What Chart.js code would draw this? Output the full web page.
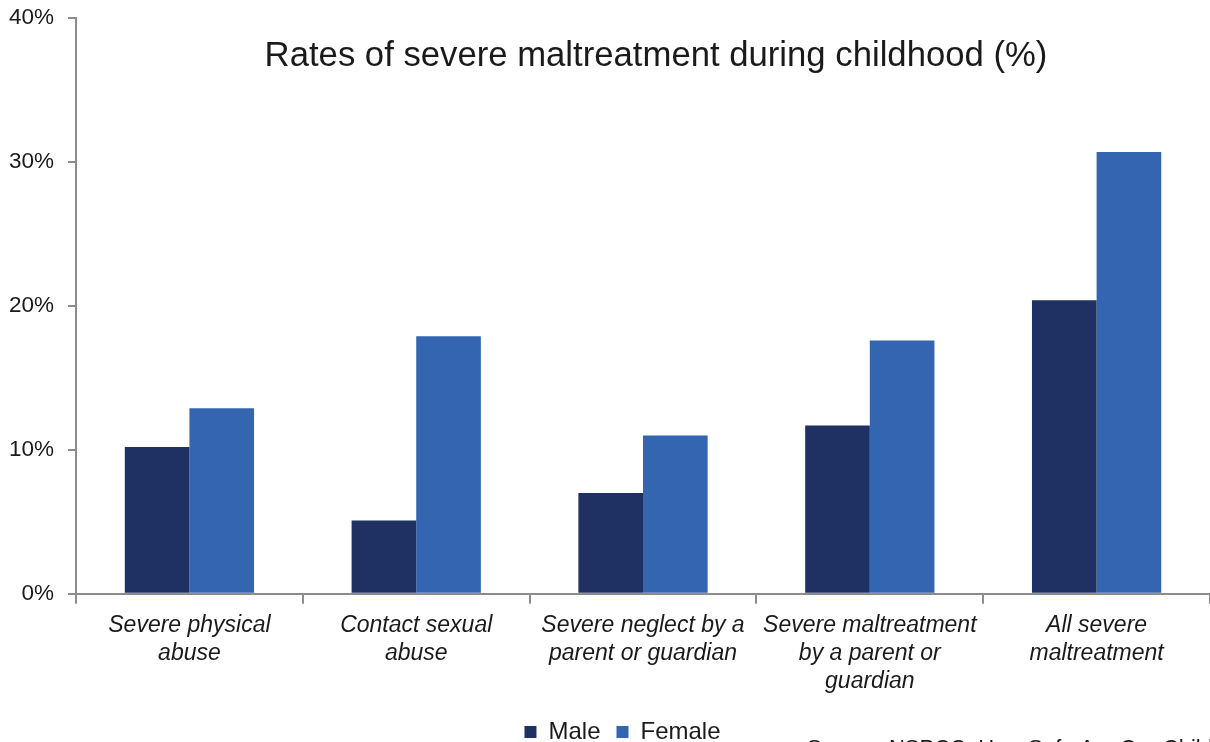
<!DOCTYPE html>
<html><head><meta charset="utf-8">
<script src="https://cdn.jsdelivr.net/npm/chart.js@4"></script>
<style>html,body{margin:0;padding:0;background:#fff;}#wrap{width:1210px;height:742px;position:relative;}</style>
</head><body><div id="wrap"><canvas id="c"></canvas></div>
<script>
const categories = [
  ["Severe physical", "abuse"],
  ["Contact sexual", "abuse"],
  ["Severe neglect by a", "parent or guardian"],
  ["Severe maltreatment", "by a parent or", "guardian"],
  ["All severe", "maltreatment"]
];
const maleValues = [10.2, 5.1, 7.0, 11.7, 20.4];
const femaleValues = [12.9, 17.9, 11.0, 17.6, 30.7];
const yTicks = [0, 10, 20, 30, 40];
const titleText = "Rates of severe maltreatment during childhood (%)";
const sourceText = "Source: NSPCC, How Safe Are Our Children? 2013";

const FONT = '"Liberation Sans", Arial, sans-serif';

const overlayText = {
  id: 'overlayText',
  afterLayout(chart) {
    if (chart.legend) { chart.legend.left += 20; chart.legend.right += 20; }
  },
  afterDraw(chart) {
    const ctx = chart.ctx;
    ctx.save();
    ctx.fillStyle = '#1a1a1a';
    ctx.font = '34.7px ' + FONT;
    ctx.textAlign = 'center';
    ctx.textBaseline = 'middle';
    ctx.fillText(titleText, 656, 56);
    ctx.font = '22px ' + FONT;
    ctx.textAlign = 'left';
    ctx.textBaseline = 'top';
    ctx.fillText(sourceText, 807, 738);
    ctx.restore();
  }
};

new Chart(document.getElementById('c'), {
  type: 'bar',
  data: {
    labels: categories,
    datasets: [
      { label: 'Male', data: maleValues, backgroundColor: '#1f3163' },
      { label: 'Female', data: femaleValues, backgroundColor: '#3365b0' }
    ]
  },
  options: {
    responsive: true,
    maintainAspectRatio: false,
    animation: false,
    devicePixelRatio: 1,
    layout: { padding: { left: -5, right: 0, top: 0, bottom: -12 } },
    datasets: { bar: { categoryPercentage: 0.57, barPercentage: 1.0 } },
    scales: {
      x: {
        grid: { display: true, drawOnChartArea: false, drawTicks: true, tickLength: 10, color: '#8c8c8c', lineWidth: 2, offset: true },
        border: { display: true, color: '#8c8c8c', width: 2 },
        ticks: {
          color: '#1a1a1a', maxRotation: 0, autoSkip: false, padding: 8,
          font: { family: FONT, size: 23, style: 'italic', lineHeight: 1.22 }
        }
      },
      y: {
        min: 0, max: 40,
        afterBuildTicks(axis) { axis.ticks = yTicks.map(v => ({ value: v })); },
        grid: { display: true, drawOnChartArea: false, drawTicks: true, tickLength: 8, color: '#8c8c8c', lineWidth: 2 },
        border: { display: true, color: '#8c8c8c', width: 2 },
        ticks: {
          color: '#1a1a1a', padding: 14,
          font: { family: FONT, size: 22.5, lineHeight: 0.36 },
          callback: v => v + '%'
        }
      }
    },
    plugins: {
      title: { display: false },
      tooltip: { enabled: false },
      legend: {
        display: true, position: 'bottom',
        labels: {
          color: '#1a1a1a', boxWidth: 12, boxHeight: 12, padding: 16,
          font: { family: FONT, size: 24 }
        }
      }
    }
  },
  plugins: [overlayText]
});
</script></body></html>
